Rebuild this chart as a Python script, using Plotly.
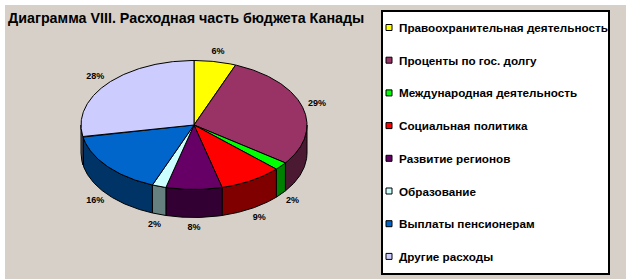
import numpy as np
import plotly.graph_objects as go

# Budget expenditure structure (percent of total)
categories = [
    "Правоохранительная деятельность",
    "Проценты по гос. долгу",
    "Международная деятельность",
    "Социальная политика",
    "Развитие регионов",
    "Образование",
    "Выплаты пенсионерам",
    "Другие расходы",
]
shares = [6, 29, 2, 9, 8, 2, 16, 28]
top_colors = ["#FFFF00", "#993366", "#00FF00", "#FF0000",
              "#660066", "#CCFFFF", "#0066CC", "#CCCCFF"]
side_colors = ["#808000", "#4C1933", "#008000", "#800000",
               "#330033", "#668080", "#003366", "#666680"]
title_text = "Диаграмма VIII. Расходная часть бюджета Канады"

W, H = 631, 279
# tilted pie geometry (pixel units on the axes)
cx, cy, rx, ry, depth = 194, 125, 113, 64.5, 28
FONT = "Arial, Liberation Sans, sans-serif"


def ellipse(theta_deg, drop=0.0):
    t = np.radians(theta_deg)
    return cx + rx * np.sin(t), cy - ry * np.cos(t) + drop


total = float(sum(shares))
bounds = np.concatenate([[0.0], np.cumsum(shares) / total * 360.0])

fig = go.Figure()

# side walls of the front half
for i, share in enumerate(shares):
    lo, hi = max(bounds[i], 90.0), min(bounds[i + 1], 270.0)
    if lo >= hi:
        continue
    th = np.linspace(lo, hi, max(3, int((hi - lo) * 2)))
    xt, yt = ellipse(th)
    xb, yb = ellipse(th[::-1], depth)
    xs = np.concatenate([xt, xb, xt[:1]])
    ys = np.concatenate([yt, yb, yt[:1]])
    fig.add_trace(go.Scatter(x=xs, y=ys, mode="lines", fill="toself",
                             fillcolor=side_colors[i],
                             line=dict(color="black", width=1),
                             hoverinfo="skip", showlegend=False))

# top faces
for i, share in enumerate(shares):
    a, b = bounds[i], bounds[i + 1]
    th = np.linspace(a, b, max(3, int((b - a) * 2)))
    xa, ya = ellipse(th)
    xs = np.concatenate([[cx], xa, [cx]])
    ys = np.concatenate([[cy], ya, [cy]])
    fig.add_trace(go.Scatter(x=xs, y=ys, mode="lines", fill="toself",
                             fillcolor=top_colors[i],
                             line=dict(color="black", width=1),
                             hoverinfo="skip", showlegend=False,
                             name=categories[i]))

# percentage labels outside the pie
mids = (bounds[:-1] + bounds[1:]) / 2.0
mt = np.radians(mids)
lx = cx + 128 * np.sin(mt)
ly = cy - 75 * np.cos(mt) + np.where(np.cos(mt) < 0, depth, 0)
fig.add_trace(go.Scatter(x=lx, y=ly, mode="text",
                         text=[f"{s}%" for s in shares],
                         textfont=dict(family=FONT, size=9, color="black",
                                       weight="bold"),
                         hoverinfo="skip", showlegend=False))

shapes = [
    # chart area background
    dict(type="rect", xref="x", yref="y", x0=5, x1=626, y0=5, y1=H + 2,
         fillcolor="#D6D0C9", line=dict(width=0), layer="below"),
    # legend frame
    dict(type="rect", xref="x", yref="y", x0=382, x1=609, y0=11, y1=274,
         fillcolor="white", line=dict(color="black", width=2), layer="below"),
]
annotations = [
    dict(x=6, y=18, xref="x", yref="y", text=title_text, showarrow=False,
         xanchor="left", yanchor="middle",
         font=dict(family=FONT, size=14.3, color="black", weight="bold")),
]

for i, name in enumerate(categories):
    yc = 27.5 + i * 32.7
    shapes.append(dict(type="rect", xref="x", yref="y", x0=386, x1=392,
                       y0=yc - 3, y1=yc + 3, fillcolor=top_colors[i],
                       line=dict(color="black", width=1)))
    annotations.append(dict(x=396.5, y=yc, xref="x", yref="y", text=name,
                            showarrow=False, xanchor="left", yanchor="middle",
                            font=dict(family=FONT, size=11.7, color="black",
                                      weight="bold")))

fig.update_layout(
    width=W, height=H, autosize=False,
    margin=dict(l=0, r=0, t=0, b=0, pad=0),
    paper_bgcolor="white", plot_bgcolor="rgba(0,0,0,0)",
    xaxis=dict(range=[0, W], visible=False, fixedrange=True),
    yaxis=dict(range=[H, 0], visible=False, fixedrange=True),
    shapes=shapes, annotations=annotations,
    showlegend=False,
)

fig.write_html("out.html", config={"displayModeBar": False})
